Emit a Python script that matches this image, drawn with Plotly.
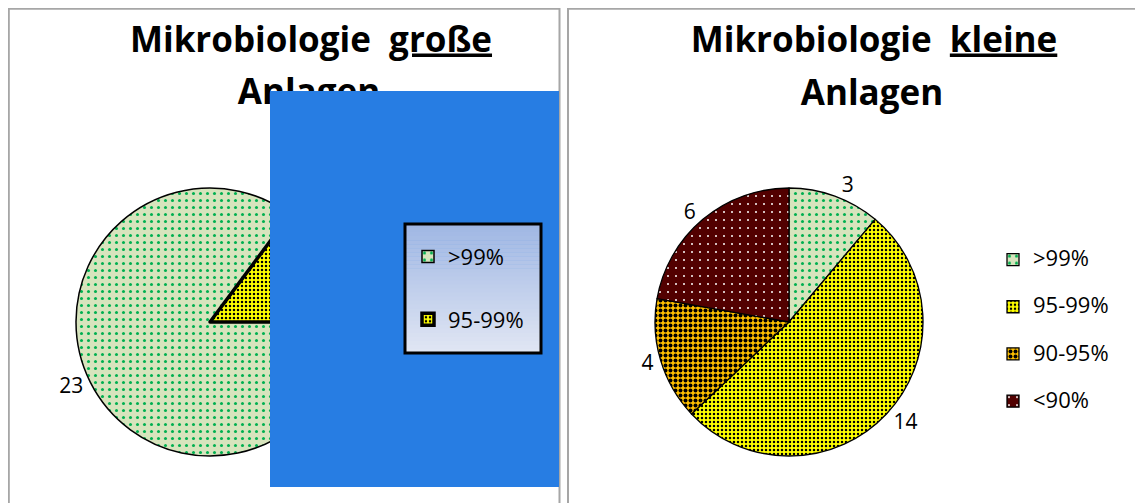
import plotly.graph_objects as go

# ---------------- data ----------------
categories = [">99%", "95-99%", "90-95%", "<90%"]
gross_values = [23, 4]          # Mikrobiologie große Anlagen
klein_values = [3, 14, 4, 6]    # Mikrobiologie kleine Anlagen
title_gross = ("Mikrobiologie", "große", "Anlagen")
title_klein = ("Mikrobiologie", "kleine", "Anlagen")

# ---------------- styles ----------------
bg_colors = ["#D7E4BD", "#FFFF00", "#FFC000", "#520000"]
fg_colors = ["#00B050", "#000000", "#000000", "#FFFFFF"]
pat_sizes = [7, 4, 5, 8]
pat_solid = [0.15, 0.3, 0.5, 0.05]

# the page has an 8px body margin, so the figure is drawn 8px in from the corner
OFF = 8
W, H = 1143 - OFF, 503 - OFF
FONT = "Open Sans"


def px(x):
    return (x - OFF) / W


def py(y):
    return 1 - (y - OFF) / H


def esc(s):
    return s.replace("<", "&lt;").replace(">", "&gt;")


def legend_labels(cats, tail):
    return ["<span style='font-size:22px'>%s</span><br>%s" % (esc(c), tail) for c in cats]


def pattern(n):
    return dict(shape=["."] * n, bgcolor=bg_colors[:n], fgcolor=fg_colors[:n],
                size=pat_sizes[:n], solidity=pat_solid[:n], fillmode="replace")


fig = go.Figure()

# left pie (große Anlagen)
fig.add_trace(go.Pie(
    labels=legend_labels(categories[:2], "&#160;"), values=gross_values,
    sort=False, direction="clockwise", rotation=90,
    textinfo="value", textposition="outside",
    outsidetextfont=dict(family=FONT, size=21, color="black"),
    marker=dict(colors=bg_colors[:2], pattern=pattern(2),
                line=dict(color="black", width=[1.5, 3.5])),
    domain=dict(x=[px(210 - 134), px(210 + 134)], y=[py(322 + 134), py(322 - 134)]),
    legend="legend2", hoverinfo="value",
))

# right pie (kleine Anlagen)
fig.add_trace(go.Pie(
    labels=legend_labels(categories, "&#160;&#160;"), values=klein_values,
    sort=False, direction="clockwise", rotation=0,
    textinfo="value", textposition="outside",
    outsidetextfont=dict(family=FONT, size=21, color="black"),
    marker=dict(colors=bg_colors, pattern=pattern(4),
                line=dict(color="black", width=1.3)),
    domain=dict(x=[px(789 - 134), px(789 + 134)], y=[py(322 + 134), py(322 - 134)]),
    legend="legend", hoverinfo="value",
))


def text_shape(xc, yc, text, size):
    return dict(type="rect", xref="paper", yref="paper",
                x0=px(xc - 260), x1=px(xc + 260), y0=py(yc + 22), y1=py(yc - 22),
                line=dict(width=0), fillcolor="rgba(0,0,0,0)", layer="above",
                label=dict(text=text, font=dict(family=FONT, size=size, color="black"),
                           textposition="middle center", padding=0))


def title_line1(t):
    return "<b>%s&#160; <u>%s</u></b>" % (t[0], t[1])


shapes = [
    # panel frames
    dict(type="rect", xref="paper", yref="paper", x0=px(8.8), x1=px(559.5), y0=py(530), y1=py(8.8),
         line=dict(color="#A6A6A6", width=2), fillcolor="rgba(0,0,0,0)", layer="below"),
    dict(type="rect", xref="paper", yref="paper", x0=px(568), x1=px(1170), y0=py(530), y1=py(8.8),
         line=dict(color="#A6A6A6", width=2), fillcolor="rgba(0,0,0,0)", layer="below"),
    # titles
    text_shape(311, 40, title_line1(title_gross), 35),
    text_shape(309, 92, "<b>%s</b>" % title_gross[2], 35),
    text_shape(874, 40, title_line1(title_klein), 35),
    text_shape(872, 93, "<b>%s</b>" % title_klein[2], 35),
    # blue occluding panel
    dict(type="rect", xref="paper", yref="paper", x0=px(270), x1=px(559), y0=py(487), y1=py(91),
         line=dict(width=0), fillcolor="#277DE3", layer="above"),
]

# gradient legend box (left chart)
top_c = (160, 183, 228)
bot_c = (224, 230, 243)
lx0, lx1, ly0, ly1 = 405, 541, 224, 353
n = 32
for i in range(n):
    t = i / (n - 1)
    c = tuple(round(top_c[k] + (bot_c[k] - top_c[k]) * t) for k in range(3))
    y_a = ly0 + (ly1 - ly0) * i / n
    y_b = ly0 + (ly1 - ly0) * (i + 1) / n + 0.5
    shapes.append(dict(type="rect", xref="paper", yref="paper", x0=px(lx0), x1=px(lx1),
                       y0=py(y_b), y1=py(y_a), line=dict(width=0),
                       fillcolor="rgb(%d,%d,%d)" % c, layer="above"))
shapes.append(dict(type="rect", xref="paper", yref="paper", x0=px(lx0), x1=px(lx1),
                   y0=py(ly1), y1=py(ly0), line=dict(color="black", width=3),
                   fillcolor="rgba(0,0,0,0)", layer="above"))

fig.update_layout(
    width=W, height=H,
    margin=dict(l=0, r=0, t=0, b=0),
    paper_bgcolor="white", plot_bgcolor="white",
    font=dict(family=FONT, color="black"),
    shapes=shapes,
    legend=dict(x=px(993), y=py(242), xanchor="left", yanchor="top",
                bgcolor="rgba(0,0,0,0)", borderwidth=0, valign="top",
                font=dict(family=FONT, size=17, color="black")),
    legend2=dict(x=px(408), y=py(235), xanchor="left", yanchor="top",
                 bgcolor="rgba(0,0,0,0)", borderwidth=0, valign="top",
                 font=dict(family=FONT, size=23, color="black")),
)

fig.write_html("out.html")
